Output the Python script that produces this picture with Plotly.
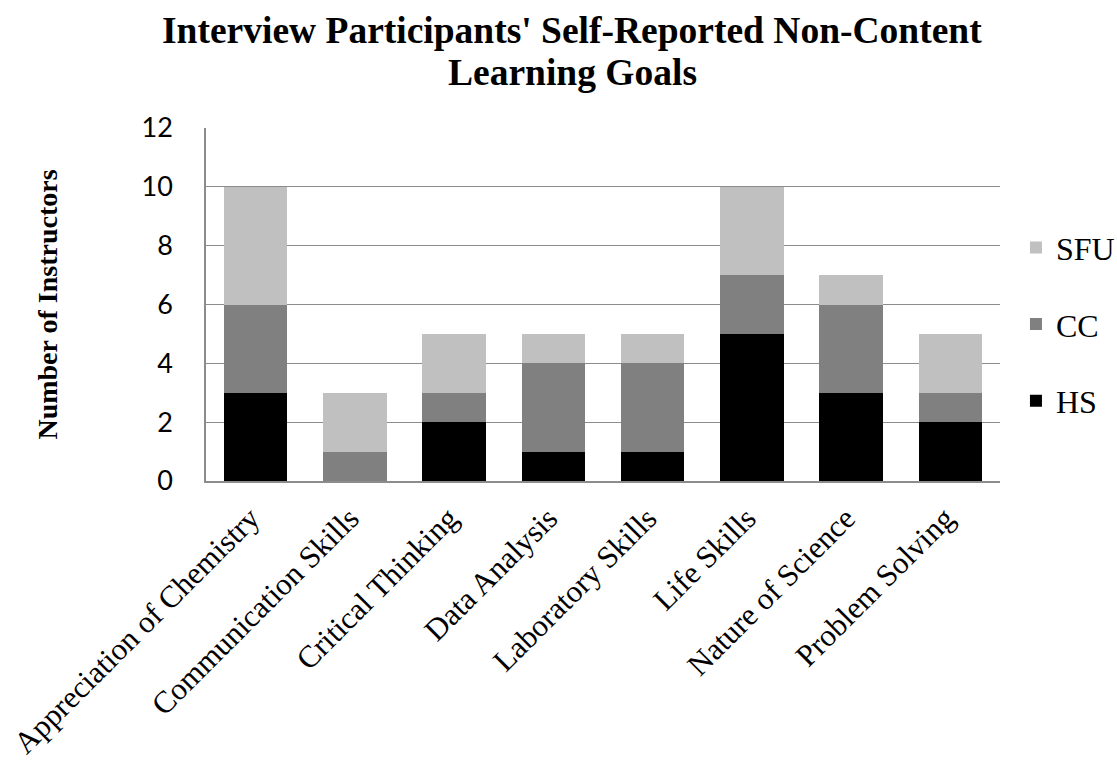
import plotly.graph_objects as go

categories = ["Appreciation of Chemistry", "Communication Skills", "Critical Thinking",
              "Data Analysis", "Laboratory Skills", "Life Skills", "Nature of Science",
              "Problem Solving"]
hs = [3, 0, 2, 1, 1, 5, 3, 2]
cc = [3, 1, 1, 3, 3, 2, 3, 1]
sfu = [4, 2, 2, 1, 1, 3, 1, 2]
y_ticks = [0, 2, 4, 6, 8, 10, 12]

series = [("HS", hs, "#000000", 3), ("CC", cc, "#808080", 2), ("SFU", sfu, "#c0c0c0", 1)]

fig = go.Figure()
for name, vals, col, rank in series:
    fig.add_trace(go.Bar(x=categories, y=vals, name=name, legendgroup=name, legendrank=rank,
                         marker=dict(color=col, line=dict(width=0))))

serif = "Liberation Serif, Times New Roman, serif"
fig.update_layout(
    barmode="stack",
    bargap=0.36,
    width=1117, height=761,
    paper_bgcolor="white", plot_bgcolor="white",
    margin=dict(l=206, r=117, t=128, b=280, autoexpand=False),
    legend=dict(x=1.0201, xanchor="left", y=0.739, yanchor="top",
                traceorder="grouped", tracegroupgap=32,
                font=dict(family=serif, size=32, color="black"),
                itemwidth=30),
    xaxis=dict(tickangle=-45, tickfont=dict(family=serif, size=31, color="black"),
               ticklabelshift=-5, ticklabelstandoff=5,
               showline=True, linecolor="#8c8c8c", linewidth=1.5, ticks=""),
    yaxis=dict(range=[0, 12], tickvals=y_ticks, showgrid=True, gridcolor="#8c8c8c", gridwidth=1.2,
               showline=True, linecolor="#8c8c8c", linewidth=1.5, zeroline=False,
               tickfont=dict(family="Lato, Carlito, sans-serif", size=27, color="black"),
               ticks="", ticklabelstandoff=26,
               title=dict(text="<b>Number of Instructors</b>", standoff=76,
                          font=dict(family=serif, size=28, color="black"))),
    annotations=[
        dict(text="<b>Interview Participants' Self-Reported Non-Content</b>", xref="paper", yref="paper",
             x=0.461, y=1.2748, xanchor="center", yanchor="middle", showarrow=False,
             font=dict(family=serif, size=37.5, color="black")),
        dict(text="<b>Learning Goals</b>", xref="paper", yref="paper",
             x=0.461, y=1.1586, xanchor="center", yanchor="middle", showarrow=False,
             font=dict(family=serif, size=37.5, color="black")),
    ],
)
fig.write_html("out.html")
